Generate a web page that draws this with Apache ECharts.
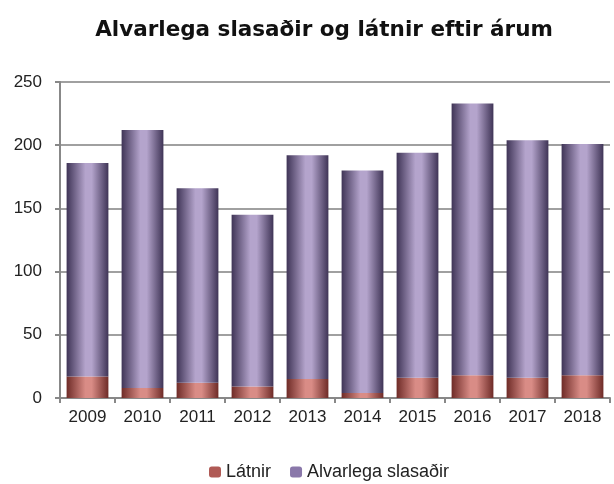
<!DOCTYPE html>
<html>
<head>
<meta charset="utf-8">
<script src="https://cdn.jsdelivr.net/npm/echarts@6/dist/echarts.min.js"></script>
<style>
  html, body { margin: 0; padding: 0; background: #fff; }
  #chart { width: 614px; height: 484px; }
</style>
</head>
<body>
<div id="chart"></div>
<script>
var years = ["2009", "2010", "2011", "2012", "2013", "2014", "2015", "2016", "2017", "2018"];
var latnir = [17, 8, 12, 9, 15, 4, 16, 18, 16, 18];
var slasadir = [169, 204, 154, 136, 177, 176, 178, 215, 188, 183];

function barGrad(edge, mid) {
  return new echarts.graphic.LinearGradient(0, 0, 1, 0, [
    { offset: 0, color: edge },
    { offset: 0.45, color: mid },
    { offset: 0.6, color: mid },
    { offset: 1, color: edge },
  ]);
}

var chart = echarts.init(document.getElementById("chart"));
chart.setOption({
  animation: false,
  title: {
    text: "Alvarlega slasaðir og látnir eftir árum",
    left: 319,
    textAlign: "center",
    top: 14,
    textStyle: {
      fontFamily: "DejaVu Sans",
      fontSize: 21.5,
      fontWeight: "bold",
      color: "#111",
    },
  },
  legend: {
    top: 458,
    left: 204,
    itemWidth: 12,
    itemHeight: 11,
    itemGap: 19,
    textStyle: { fontFamily: "Liberation Sans Narrow, Liberation Sans", fontSize: 18, color: "#222" },
    data: [
      { name: "Látnir", itemStyle: { color: "#b05a55" } },
      { name: "Alvarlega slasaðir", itemStyle: { color: "#8a78aa" } },
    ],
  },
  grid: { left: 60, right: 4, top: 82, bottom: 86 },
  xAxis: {
    type: "category",
    data: years,
    axisLine: { lineStyle: { color: "#888", width: 2 } },
    axisTick: { show: true, inside: false, length: 5, lineStyle: { color: "#888", width: 2 } },
    axisLabel: { fontFamily: "Liberation Sans", fontSize: 17, color: "#222", margin: 11 },
  },
  yAxis: {
    type: "value",
    min: 0,
    max: 250,
    interval: 50,
    axisLine: { show: true, lineStyle: { color: "#888", width: 2 } },
    axisTick: { show: true, length: 5, lineStyle: { color: "#888", width: 2 } },
    axisLabel: { fontFamily: "Liberation Sans", fontSize: 17, color: "#222", margin: 18 },
    splitLine: { lineStyle: { color: "#a0a0a0", width: 2 } },
  },
  series: [
    {
      name: "Látnir",
      type: "bar",
      stack: "a",
      barWidth: "76%",
      data: latnir,
      itemStyle: { color: barGrad("#6e2b27", "#d98c86") },
    },
    {
      name: "Alvarlega slasaðir",
      type: "bar",
      stack: "a",
      barWidth: "76%",
      data: slasadir,
      itemStyle: { color: barGrad("#3f3456", "#b4a4cc") },
    },
  ],
});
</script>
</body>
</html>
